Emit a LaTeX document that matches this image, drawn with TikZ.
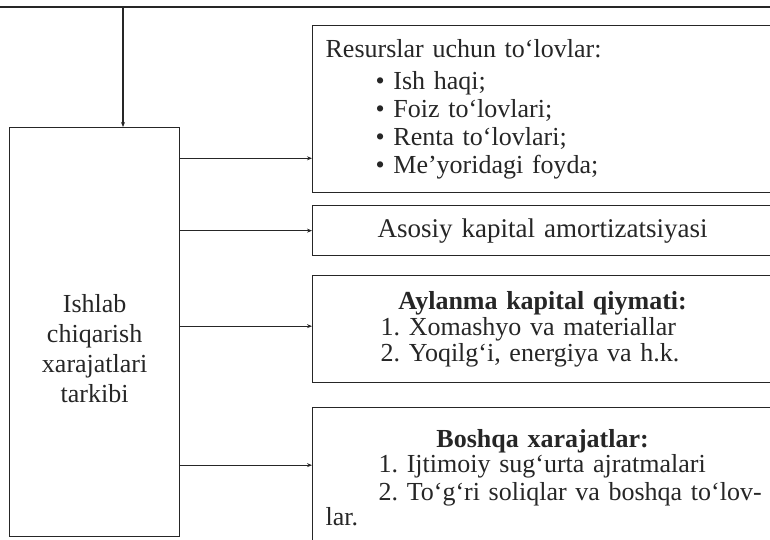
\documentclass[tikz,border=0pt]{standalone}
\usepackage{fontspec}
\setmainfont{Liberation Serif}
\usetikzlibrary{arrows.meta,positioning}
\definecolor{ink}{HTML}{262626}
\frenchspacing

\begin{document}
\begin{tikzpicture}[
    x=1pt, y=-1pt,
    box/.style={draw=ink, line width=1.3pt, inner sep=0pt, text=ink, font=\fontsize{26}{28}\selectfont},
    itembox/.style={box, anchor=north west, text width=434pt, inner xsep=13pt, align=left},
    conn/.style={draw=ink, line width=1.3pt, -{Stealth[length=5pt,width=4pt]}},
    rule/.style={draw=ink, line width=1.3pt},
    heading/.style={font=\fontsize{26}{28}\selectfont\bfseries}
]
\useasboundingbox (0,0) rectangle (770,540);

% Left box
\node (main) [box, anchor=north west, minimum width=170pt, minimum height=409pt] at (9,127) {};
\node (mainlbl) [text=ink, align=center, font=\fontsize{26}{30}\selectfont] at ([yshift=-16pt]main.center)
    {Ishlab\\chiqarish\\xarajatlari\\tarkibi};

% Right boxes
\node (box1) [itembox, minimum height=167pt] at (312,25) {%
    Resurslar uchun to‘lovlar:\\[4pt]
    \hspace*{50pt}• Ish haqi;\\
    \hspace*{50pt}• Foiz to‘lovlari;\\
    \hspace*{50pt}• Renta to‘lovlari;\\
    \hspace*{50pt}• Me’yoridagi foyda;};
\node (box2) [itembox, align=center, minimum height=50pt, font=\fontsize{27}{29}\selectfont] at (312,205)
    {Asosiy kapital amortizatsiyasi};
\node (box3) [itembox, minimum height=107pt, font=\fontsize{26}{26}\selectfont] at (312,275) {%
    \makebox[\linewidth][c]{\bfseries Aylanma kapital qiymati:}\\
    \hspace*{55pt}1. Xomashyo va materiallar\\
    \hspace*{55pt}2. Yoqilg‘i, energiya va h.k.};
\node (box4) [itembox, minimum height=141pt, font=\fontsize{26}{25}\selectfont] at (312,407) {%
    \makebox[\linewidth][c]{\bfseries Boshqa xarajatlar:}\\
    \hspace*{53pt}1. Ijtimoiy sug‘urta ajratmalari\\[3pt]
    \hspace*{53pt}\makebox[0pt][l]{2. To‘g‘ri soliqlar va boshqa to‘lov-}\\
    lar.};

% Top line
\coordinate (topL) at (-5,7);
\coordinate (topR) at (775,7);
\coordinate (topJ) at (123,7);
\draw[rule] (topL) -- (topR);
\draw[conn] (topJ) -- (topJ |- main.north);

% Connectors
\coordinate (in1) at ([yshift=35pt]box1.south west);
\coordinate (in3) at ([yshift=3pt]box3.west);
\coordinate (in4) at ([yshift=13pt]box4.west);
\draw[conn] (main.east |- in1) -- (in1);
\draw[conn] (main.east |- box2.west) -- (box2.west);
\draw[conn] (main.east |- in3) -- (in3);
\draw[conn] (main.east |- in4) -- (in4);

\end{tikzpicture}
\end{document}
